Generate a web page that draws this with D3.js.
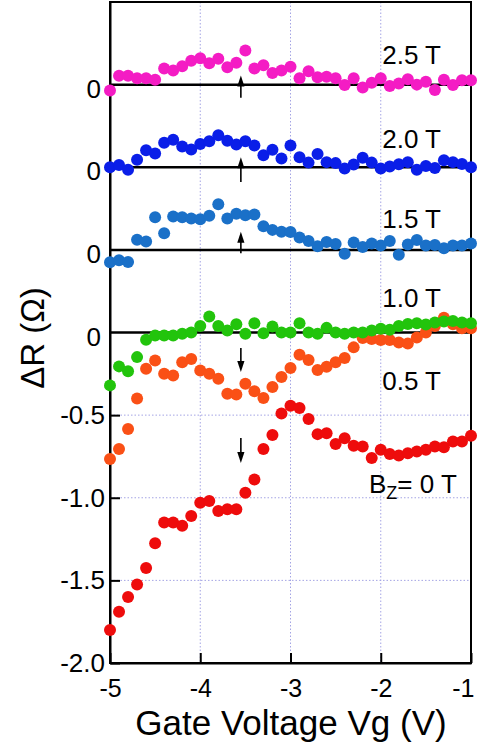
<!DOCTYPE html>
<html>
<head>
<meta charset="utf-8">
<script src="https://cdn.jsdelivr.net/npm/d3@7"></script>
<style>
  body{margin:0;background:#fff;}
  svg text{font-family:"Liberation Sans",Arial,Helvetica,sans-serif;fill:#000;}
</style>
</head>
<body>
<svg id="chart" width="497" height="747"></svg>
<script>
/* gate voltage (V) */
const vg = [-5.0,-4.9,-4.8,-4.7,-4.6,-4.5,-4.4,-4.3,-4.2,-4.1,-4.0,-3.9,-3.8,-3.7,-3.6,-3.5,-3.4,-3.3,-3.2,-3.1,
            -3.0,-2.9,-2.8,-2.7,-2.6,-2.5,-2.4,-2.3,-2.2,-2.1,-2.0,-1.9,-1.8,-1.7,-1.6,-1.5,-1.4,-1.3,-1.2,-1.1,-1.0];

/* ΔR (Ω) per field, relative to each curve's own zero */
const dR25 = [-0.036,0.053,0.053,0.038,0.038,0.030,0.097,0.086,0.111,0.145,0.160,0.130,0.157,0.105,0.132,0.206,0.097,0.117,0.071,0.085,
              0.108,0.038,0.081,0.044,0.047,0.038,-0.002,0.038,-0.018,0.012,0.038,-0.008,0.007,0.033,0.000,0.018,-0.033,0.030,-0.002,0.027,0.027];
const dR20 = [0.000,0.014,-0.015,0.045,0.103,0.083,0.148,0.166,0.126,0.108,0.140,0.157,0.193,0.160,0.137,0.157,0.131,0.072,0.106,0.053,
              0.131,0.060,0.028,0.080,0.031,0.025,-0.007,0.016,0.058,0.028,-0.007,0.005,0.018,0.031,-0.015,0.008,-0.004,0.043,0.031,0.020,0.000];
const dR15 = [-0.075,-0.063,-0.073,0.061,0.050,0.198,0.100,0.202,0.198,0.190,0.186,0.206,0.276,0.190,0.219,0.210,0.214,0.143,0.121,0.110,
              0.108,0.075,0.053,0.022,0.048,0.036,-0.024,0.044,0.018,0.038,0.026,0.053,-0.030,0.033,0.060,0.026,0.030,0.010,0.026,0.026,0.038];
const dR10 = [-0.320,-0.205,-0.234,-0.149,-0.044,-0.018,-0.018,-0.018,-0.008,0.000,0.040,0.097,0.040,0.012,0.050,-0.008,0.056,-0.004,0.036,0.000,
              0.000,0.056,0.000,-0.008,0.028,0.000,-0.008,0.000,0.000,0.012,0.022,0.016,0.040,0.052,0.056,0.048,0.060,0.066,0.070,0.060,0.056];
const dR05 = [-0.765,-0.705,-0.584,-0.400,-0.220,-0.170,-0.250,-0.260,-0.180,-0.160,-0.230,-0.250,-0.280,-0.370,-0.375,-0.310,-0.356,-0.397,-0.330,-0.270,
              -0.215,-0.135,-0.167,-0.227,-0.207,-0.180,-0.155,-0.090,-0.034,-0.040,-0.046,-0.046,-0.060,-0.066,-0.030,0.000,0.040,0.090,0.050,0.026,0.025];
const dR00 = [-1.800,-1.690,-1.600,-1.525,-1.425,-1.275,-1.150,-1.150,-1.170,-1.110,-1.030,-1.020,-1.080,-1.070,-1.070,-0.970,-0.890,-0.705,-0.620,-0.490,
              -0.443,-0.457,-0.524,-0.615,-0.610,-0.675,-0.640,-0.685,-0.690,-0.760,-0.710,-0.735,-0.745,-0.730,-0.720,-0.710,-0.690,-0.695,-0.660,-0.660,-0.625];

/* vertical offsets of the stacked curves */
const fieldNames = ['0 T','0.5 T','1.0 T','1.5 T','2.0 T','2.5 T'];
const fieldOffsets = [0, 0, 0, 0.5, 1.0, 1.5];
const zeroLevels = [1.5, 1.0, 0.5, 0];

const xTicks = [-5,-4,-3,-2,-1];
const yTicks = [-2.0,-1.5,-1.0,-0.5];

/* arrows at the marked gate voltage: [from, to] in ΔR units */
const arrowVg = -3.55;
const arrowSpans = [[1.42,1.555],[0.91,1.06],[0.48,0.61],[-0.094,-0.239],[-0.638,-0.79]];

(function(){
  const L = 110, R = 471, T = 2, B = 663;
  const x = d3.scaleLinear().domain([-5,-1]).range([L,R]);
  const y = d3.scaleLinear().domain([-2,2]).range([B,T]);
  const svg = d3.select('#chart');

  const series = [
    {name:fieldNames[0], values:dR00, offset:fieldOffsets[0], color:'#ee0c0c'},
    {name:fieldNames[1], values:dR05, offset:fieldOffsets[1], color:'#fa5016'},
    {name:fieldNames[2], values:dR10, offset:fieldOffsets[2], color:'#22c40c'},
    {name:fieldNames[3], values:dR15, offset:fieldOffsets[3], color:'#1a70c8'},
    {name:fieldNames[4], values:dR20, offset:fieldOffsets[4], color:'#0a1ee8'},
    {name:fieldNames[5], values:dR25, offset:fieldOffsets[5], color:'#f41cc4'}
  ];

  // grid (dotted)
  const grid = svg.append('g').attr('stroke','#a4a4e4').attr('stroke-width',1).attr('stroke-dasharray','1.5,2');
  grid.selectAll('line.v').data([-4,-3,-2]).enter().append('line')
    .attr('x1',d=>x(d)).attr('x2',d=>x(d)).attr('y1',T).attr('y2',B);
  grid.selectAll('line.h').data([-1.5,-1.0,-0.5,0.5]).enter().append('line')
    .attr('x1',L).attr('x2',R).attr('y1',d=>y(d)).attr('y2',d=>y(d));

  // zero lines of each curve
  svg.append('g').selectAll('line').data(zeroLevels).enter().append('line')
    .attr('x1',L).attr('x2',R).attr('y1',d=>y(d)).attr('y2',d=>y(d))
    .attr('stroke','#000').attr('stroke-width',2.5);

  // axes
  const yAxis = svg.append('g').attr('transform',`translate(${L},0)`)
    .call(d3.axisLeft(y).tickValues(yTicks).tickSize(-10).tickSizeOuter(0).tickPadding(5)
      .tickFormat(d=>d.toFixed(1)));
  const xAxis = svg.append('g').attr('transform',`translate(0,${B})`)
    .call(d3.axisBottom(x).tickValues(xTicks).tickSize(-10).tickSizeOuter(0).tickPadding(16)
      .tickFormat(d=>String(d)));
  [yAxis,xAxis].forEach(a=>{
    a.selectAll('path,line').attr('stroke','#000').attr('stroke-width',2);
    a.selectAll('text').attr('font-size',25).attr('font-family','"Liberation Sans",Arial,sans-serif').attr('fill','#000');
  });
  yAxis.selectAll('text').attr('font-size',26);
  xAxis.selectAll('.tick').filter(d=>d===-1).select('text').attr('text-anchor','end').attr('dx',3);

  svg.append('rect').attr('x',L).attr('y',T).attr('width',R-L).attr('height',B-T)
    .attr('fill','none').attr('stroke','#000').attr('stroke-width',2);

  // "0" labels for the stacked baselines
  svg.append('g').selectAll('text').data(zeroLevels).enter().append('text')
    .attr('x',L-9).attr('y',d=>y(d)+13).attr('text-anchor','end').attr('font-size',26).text('0');

  // markers
  series.forEach(s=>{
    svg.append('g').attr('fill',s.color).selectAll('circle').data(s.values).enter().append('circle')
      .attr('cx',(d,i)=>x(vg[i])).attr('cy',d=>y(d+s.offset)).attr('r',6);
  });

  // arrows
  const ag = svg.append('g');
  arrowSpans.forEach(([a,b])=>{
    const y0 = y(a), y1 = y(b), dir = y1<y0 ? 1 : -1, xa = x(arrowVg);
    ag.append('line').attr('x1',xa).attr('x2',xa).attr('y1',y0).attr('y2',y1+dir*9)
      .attr('stroke','#000').attr('stroke-width',1.6);
    ag.append('path').attr('d',`M${xa},${y1}L${xa-3.6},${y1+dir*11}L${xa+3.6},${y1+dir*11}Z`).attr('fill','#000');
  });

  // field labels
  const lab = svg.append('g').attr('font-size',26);
  [['2.5 T',64],['2.0 T',148],['1.5 T',228],['1.0 T',307],['0.5 T',390]].forEach(([t,yy])=>{
    lab.append('text').attr('x',441).attr('y',yy).attr('text-anchor','end').text(t);
  });
  const bz = lab.append('text').attr('x',369).attr('y',493);
  bz.append('tspan').text('B');
  bz.append('tspan').attr('font-size',18).attr('dy',6).text('Z');
  bz.append('tspan').attr('dy',-6).text('= 0 T');

  // axis titles
  svg.append('text').attr('x',291).attr('y',735).attr('text-anchor','middle').attr('font-size',35)
    .text('Gate Voltage Vg (V)');
  svg.append('text').attr('transform','translate(44,338) rotate(-90)').attr('text-anchor','middle')
    .attr('font-size',33).text('ΔR (Ω)');
})();
</script>
</body>
</html>
